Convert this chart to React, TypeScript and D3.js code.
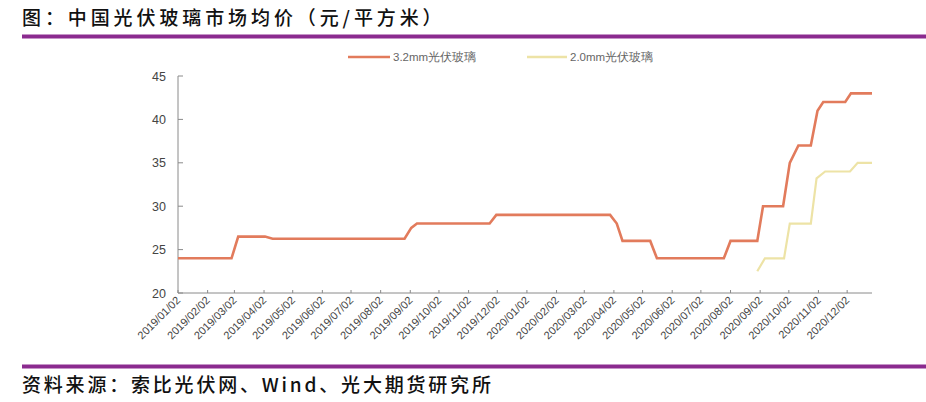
import React from "react";
import * as d3 from "d3";

const title = "图：中国光伏玻璃市场均价（元/平方米）";
const source = "资料来源：索比光伏网、Wind、光大期货研究所";
const seriesNames = ["3.2mm光伏玻璃", "2.0mm光伏玻璃"];
const seriesColors = ["#E27B5C", "#EDE3A6"];

const dates32 = [
  "2019-01-02", "2019-02-27", "2019-03-06", "2019-04-03", "2019-04-11", "2019-08-27",
  "2019-09-03", "2019-09-09", "2019-11-24", "2019-12-01", "2020-03-29", "2020-04-05",
  "2020-04-11", "2020-05-10", "2020-05-17", "2020-07-26", "2020-08-02", "2020-08-30",
  "2020-09-05", "2020-09-26", "2020-10-03", "2020-10-12", "2020-10-25", "2020-11-01",
  "2020-11-07", "2020-11-30", "2020-12-06", "2020-12-28",
];
const values32 = [
  24, 24, 26.5, 26.5, 26.25, 26.25,
  27.5, 28, 28, 29, 29, 28,
  26, 26, 24, 24, 26, 26,
  30, 30, 35, 37, 37, 41,
  42, 42, 43, 43,
];

const dates20 = [
  "2020-08-30", "2020-09-07", "2020-09-27", "2020-10-03", "2020-10-25", "2020-10-31",
  "2020-11-09", "2020-12-05", "2020-12-13", "2020-12-28",
];
const values20 = [22.5, 24, 24, 28, 28, 33.2, 34, 34, 35, 35];

const yTicks = [20, 25, 30, 35, 40, 45];
const xTickDates = [
  "2019-01-02", "2019-02-02", "2019-03-02", "2019-04-02", "2019-05-02", "2019-06-02",
  "2019-07-02", "2019-08-02", "2019-09-02", "2019-10-02", "2019-11-02", "2019-12-02",
  "2020-01-02", "2020-02-02", "2020-03-02", "2020-04-02", "2020-05-02", "2020-06-02",
  "2020-07-02", "2020-08-02", "2020-09-02", "2020-10-02", "2020-11-02", "2020-12-02",
];

const parse = d3.utcParse("%Y-%m-%d");
const fmt = d3.utcFormat("%Y/%m/%d");

export default function App() {
  const W = 926;
  const H = 402;
  const left = 178;
  const right = 872;
  const top = 76;
  const bottom = 293;

  const x = d3
    .scaleUtc()
    .domain([parse("2019-01-02")!, parse("2020-12-28")!])
    .range([left, right]);
  const y = d3.scaleLinear().domain([20, 45]).range([bottom, top]);

  const line = d3
    .line<[Date, number]>()
    .x((d) => x(d[0]))
    .y((d) => y(d[1]));

  const s32: [Date, number][] = dates32.map((d, i) => [parse(d)!, values32[i]]);
  const s20: [Date, number][] = dates20.map((d, i) => [parse(d)!, values20[i]]);

  const cjk = '"Noto Sans CJK SC", "DejaVu Sans", sans-serif';
  const axisFont = '"Liberation Sans", Arial, sans-serif';

  return (
    <div style={{ position: "absolute", left: 0, top: 0 }}>
      <svg width={W} height={H} viewBox={`0 0 ${W} ${H}`} style={{ display: "block", background: "#fff" }}>
        <text x={22} y={25} fontFamily={cjk} fontSize={19} fontWeight={500} letterSpacing={3.9} fill="#111">
          {title}
        </text>
        <rect x={22} y={34.5} width={904} height={4} fill="#8B2B8F" />

        {/* legend */}
        <line x1={348} x2={390} y1={57} y2={57} stroke={seriesColors[0]} strokeWidth={2.5} />
        <text x={393} y={61} fontFamily={axisFont} fontSize={11.5} fill="#666">
          {seriesNames[0]}
        </text>
        <line x1={527} x2={567} y1={57} y2={57} stroke={seriesColors[1]} strokeWidth={2.5} />
        <text x={570} y={61} fontFamily={axisFont} fontSize={11.5} fill="#666">
          {seriesNames[1]}
        </text>

        {/* axes */}
        <line x1={left} x2={left} y1={top} y2={bottom} stroke="#8a8a8a" strokeWidth={1} />
        <line x1={left} x2={right} y1={bottom} y2={bottom} stroke="#8a8a8a" strokeWidth={1} />
        {yTicks.map((t) => (
          <g key={t}>
            <line x1={left} x2={left + 5} y1={y(t)} y2={y(t)} stroke="#8a8a8a" />
            <text x={166} y={y(t) + 4.5} textAnchor="end" fontFamily={axisFont} fontSize={12.5} fill="#444">
              {t}
            </text>
          </g>
        ))}
        {xTickDates.map((d) => {
          const xd = x(parse(d)!);
          return (
            <g key={d}>
              <line x1={xd} x2={xd} y1={bottom} y2={bottom - 3} stroke="#8a8a8a" />
              <text
                transform={`translate(${xd + 3},${bottom + 8}) rotate(-45)`}
                textAnchor="end"
                fontFamily={axisFont}
                fontSize={11}
                fill="#444"
              >
                {fmt(parse(d)!)}
              </text>
            </g>
          );
        })}

        <path d={line(s20)!} fill="none" stroke={seriesColors[1]} strokeWidth={2.2} />
        <path d={line(s32)!} fill="none" stroke={seriesColors[0]} strokeWidth={2.6} />

        <rect x={22} y={364.5} width={904} height={4} fill="#8B2B8F" />
        <text x={22} y={392} fontFamily={cjk} fontSize={19} fontWeight={500} letterSpacing={2.8} fill="#111">
          {source}
        </text>
      </svg>
    </div>
  );
}
